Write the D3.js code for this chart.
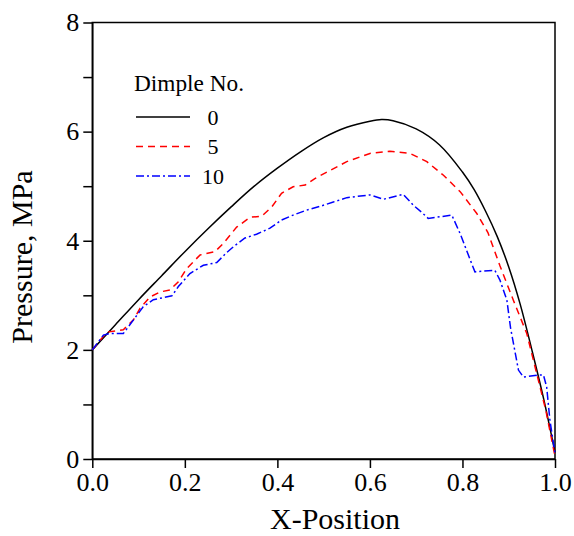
<!DOCTYPE html>
<html>
<head>
<meta charset="utf-8">
<script src="https://cdn.jsdelivr.net/npm/d3@7"></script>
<style>
  body { margin: 0; background: #fff; }
  svg text { font-family: "Liberation Serif", "Times New Roman", serif; fill: #000; }
  .axis path, .axis line { stroke: #000; stroke-width: 1.5; }
</style>
</head>
<body>
<svg id="chart"></svg>
<script>
// plot box
var width = 574;
var height = 536;
var margin = {top: 22.5, right: 19, bottom: 77, left: 92.3};
var w = width - margin.left - margin.right;
var h = height - margin.top - margin.bottom;

// data (x position, pressure in MPa)
var dimple0X = [0, 0.05, 0.1, 0.15, 0.2, 0.25, 0.3, 0.35, 0.4, 0.45, 0.5, 0.55, 0.6, 0.625, 0.65, 0.7, 0.75, 0.8, 0.825, 0.85, 0.875, 0.9, 0.925, 0.95, 0.975, 1.0];
var dimple0Y = [2.0, 2.46, 2.92, 3.36, 3.8, 4.22, 4.62, 5.0, 5.33, 5.63, 5.89, 6.08, 6.19, 6.22, 6.2, 6.05, 5.76, 5.26, 4.94, 4.54, 4.08, 3.52, 2.83, 2.0, 1.12, 0.12];

var dimple5X = [0, 0.024, 0.035, 0.067, 0.089, 0.103, 0.125, 0.146, 0.168, 0.186, 0.204, 0.233, 0.265, 0.283, 0.312, 0.341, 0.366, 0.388, 0.409, 0.434, 0.46, 0.481, 0.514, 0.55, 0.6, 0.643, 0.687, 0.723, 0.759, 0.795, 0.831, 0.855, 0.881, 0.91, 0.939, 0.958, 0.98, 1.0];
var dimple5Y = [2.0, 2.25, 2.33, 2.37, 2.55, 2.76, 2.97, 3.06, 3.1, 3.25, 3.49, 3.74, 3.8, 3.95, 4.25, 4.43, 4.45, 4.62, 4.87, 4.99, 5.02, 5.14, 5.29, 5.45, 5.6, 5.64, 5.6, 5.45, 5.2, 4.9, 4.5, 4.15, 3.54, 2.91, 2.3, 1.65, 0.9, 0.05];

var dimple10X = [0, 0.024, 0.038, 0.067, 0.089, 0.11, 0.132, 0.172, 0.186, 0.211, 0.24, 0.269, 0.29, 0.305, 0.33, 0.355, 0.384, 0.409, 0.434, 0.463, 0.492, 0.521, 0.55, 0.6, 0.629, 0.672, 0.694, 0.712, 0.726, 0.777, 0.795, 0.82, 0.827, 0.87, 0.881, 0.896, 0.904, 0.921, 0.932, 0.964, 0.975, 0.982, 0.989, 1.0];
var dimple10Y = [2.0, 2.27, 2.3, 2.3, 2.55, 2.79, 2.92, 2.99, 3.16, 3.4, 3.55, 3.6, 3.78, 3.89, 4.05, 4.12, 4.23, 4.38, 4.47, 4.56, 4.63, 4.71, 4.79, 4.84, 4.76, 4.85, 4.65, 4.52, 4.41, 4.47, 4.13, 3.58, 3.43, 3.46, 3.28, 2.91, 2.4, 1.63, 1.5, 1.54, 1.54, 1.32, 0.71, 0.1];

var seriesNames = ["0", "5", "10"];
var xTicks = [0, 0.2, 0.4, 0.6, 0.8, 1.0];
var yTicks = [0, 1, 2, 3, 4, 5, 6, 7, 8];

function zip(xs, ys) {
    return xs.map(function(v, i) { return {x: v, y: ys[i]}; });
}

var series = [
    {name: seriesNames[0], data: zip(dimple0X, dimple0Y), color: "#000000", dash: null, curve: d3.curveCatmullRom},
    {name: seriesNames[1], data: zip(dimple5X, dimple5Y), color: "#ff0000", dash: "7,5", curve: d3.curveLinear},
    {name: seriesNames[2], data: zip(dimple10X, dimple10Y), color: "#0000ff", dash: "8,3,2,3", curve: d3.curveLinear}
];

var x = d3.scaleLinear().domain([0, 1]).range([0, w]);
var y = d3.scaleLinear().domain([0, 8]).range([h, 0]);

var svg = d3.select("#chart")
    .attr("width", width)
    .attr("height", height);

var chart = svg.append("g")
    .attr("transform", "translate(" + margin.left + "," + margin.top + ")");

var xAxis = d3.axisBottom(x)
    .tickValues(xTicks)
    .tickSize(9)
    .tickSizeOuter(0)
    .tickPadding(5)
    .tickFormat(d3.format(".1f"));

var yAxis = d3.axisLeft(y)
    .tickValues(yTicks)
    .tickSize(9)
    .tickSizeOuter(0)
    .tickPadding(4)
    .tickFormat(function(d) { return d % 2 == 0 ? d : ""; });

chart.append("g")
    .attr("class", "axis")
    .attr("transform", "translate(0," + h + ")")
    .call(xAxis)
    .selectAll("text")
    .style("font-size", "26px");

chart.append("g")
    .attr("class", "axis")
    .call(yAxis)
    .selectAll("text")
    .style("font-size", "26px");

// frame
chart.append("rect")
    .attr("width", w)
    .attr("height", h)
    .attr("fill", "none")
    .attr("stroke", "#000")
    .attr("stroke-width", 1.5);

// axis titles
svg.append("text")
    .attr("x", 335)
    .attr("y", 529)
    .attr("text-anchor", "middle")
    .style("font-size", "30px")
    .text("X-Position");

svg.append("text")
    .attr("transform", "translate(32,257) rotate(-90)")
    .attr("text-anchor", "middle")
    .style("font-size", "30px")
    .text("Pressure, MPa");

// lines
series.forEach(function(s) {
    var line = d3.line()
        .x(function(d) { return x(d.x); })
        .y(function(d) { return y(d.y); })
        .curve(s.curve);
    chart.append("path")
        .datum(s.data)
        .attr("fill", "none")
        .attr("stroke", s.color)
        .attr("stroke-width", 1.5)
        .attr("stroke-dasharray", s.dash)
        .attr("d", line);
});

// legend
var legend = svg.append("g");
legend.append("text")
    .attr("x", 134)
    .attr("y", 91)
    .style("font-size", "23.3px")
    .text("Dimple No.");

series.forEach(function(s, i) {
    var ly = 117 + i * 29.5;
    legend.append("line")
        .attr("x1", 136)
        .attr("x2", 190)
        .attr("y1", ly)
        .attr("y2", ly)
        .attr("stroke", s.color)
        .attr("stroke-width", 1.5)
        .attr("stroke-dasharray", s.dash);
    legend.append("text")
        .attr("x", 213)
        .attr("y", ly + 7.5)
        .attr("text-anchor", "middle")
        .style("font-size", "22px")
        .text(s.name);
});
</script>
</body>
</html>
